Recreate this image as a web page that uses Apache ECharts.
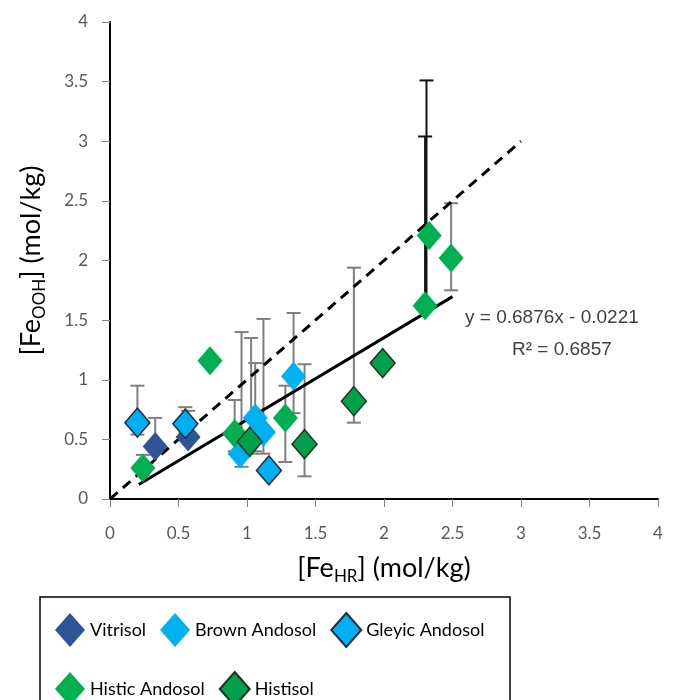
<!DOCTYPE html>
<html>
<head>
<meta charset="utf-8">
<script src="https://cdn.jsdelivr.net/npm/echarts@6/dist/echarts.min.js"></script>
<style>
html,body{margin:0;padding:0;background:#fff;}
#main{width:681px;height:700px;}
</style>
</head>
<body>
<div id="main"></div>
<script>
// x axis ticks / y axis ticks
var x_ticks = [0, 0.5, 1, 1.5, 2, 2.5, 3, 3.5, 4];
var y_ticks = [0, 0.5, 1, 1.5, 2, 2.5, 3, 3.5, 4];

// [FeHR], [FeOOH] per soil type
var vitrisol_x = [0.33, 0.57];
var vitrisol_y = [0.44, 0.52];
var brown_x = [0.95, 1.06, 1.12, 1.34];
var brown_y = [0.38, 0.68, 0.56, 1.03];
var gleyic_x = [0.20, 0.55, 1.16];
var gleyic_y = [0.64, 0.63, 0.24];
var histic_x = [0.24, 0.73, 0.91, 1.28, 2.30, 2.33, 2.49];
var histic_y = [0.26, 1.16, 0.55, 0.68, 1.62, 2.21, 2.02];
var histisol_x = [1.02, 1.42, 1.78, 1.99];
var histisol_y = [0.48, 0.46, 0.82, 1.14];

// error bars: x, low, high
var grey_bar_x = [0.20, 0.33, 0.55, 0.57, 0.24, 0.91, 0.96, 1.03, 1.06, 1.12, 1.28, 1.34, 1.42, 1.78, 2.49];
var grey_bar_lo = [0.54, 0.40, 0.55, 0.50, 0.20, 0.40, 0.27, 0.38, 0.40, 0.38, 0.31, 0.72, 0.19, 0.64, 1.75];
var grey_bar_hi = [0.95, 0.68, 0.77, 0.74, 0.37, 0.83, 1.40, 1.35, 1.14, 1.51, 0.95, 1.56, 1.13, 1.94, 2.48];
var black_bar_x = [2.30, 2.31];
var black_bar_lo = [1.62, 1.62];
var black_bar_hi = [3.04, 3.51];

// trendline y = 0.6876x - 0.0221 and 1:1 line
var fit_a = 0.6876, fit_b = -0.0221;
var fit_x = [0.21, 2.50];
var one_x = [0, 3];

function pairs(xs, ys) {
    var out = [];
    for (var i = 0; i < xs.length; i++) out.push([xs[i], ys[i]]);
    return out;
}
function bars(xs, lo, hi) {
    var out = [];
    for (var i = 0; i < xs.length; i++) out.push([xs[i], lo[i], hi[i]]);
    return out;
}

//误差线
function errorSeries(data, color) {
    return {
        type: 'custom',
        data: data,
        z: 1,
        silent: true,
        renderItem: function (params, api) {
            var x = api.value(0);
            var lo = api.coord([x, api.value(1)]);
            var hi = api.coord([x, api.value(2)]);
            var w = 7;
            var style = { stroke: color, lineWidth: 2 };
            return {
                type: 'group',
                children: [
                    { type: 'line', shape: { x1: lo[0], y1: lo[1], x2: hi[0], y2: hi[1] }, style: style },
                    { type: 'line', shape: { x1: hi[0] - w, y1: hi[1], x2: hi[0] + w, y2: hi[1] }, style: style },
                    { type: 'line', shape: { x1: lo[0] - w, y1: lo[1], x2: lo[0] + w, y2: lo[1] }, style: style }
                ]
            };
        }
    };
}

function scatterSeries(name, data, color, border) {
    return {
        name: name,
        type: 'scatter',
        symbol: 'diamond',
        symbolSize: [25, 29],
        z: 3,
        data: data,
        itemStyle: {
            color: color,
            opacity: 1,
            borderColor: border || color,
            borderWidth: border ? 1.5 : 0
        }
    };
}

var myChart = echarts.init(document.getElementById('main'));
var font = 'Lato, "Liberation Sans", sans-serif';
var axisLabel = { color: '#595959', fontSize: 17, fontFamily: font, margin: 26 };

var option = {
    animation: false,
    backgroundColor: '#fff',
    grid: { left: 110, right: 23, top: 22, bottom: 201 },
    xAxis: {
        type: 'value',
        min: 0, max: 4, interval: 0.5,
        name: '{n|[Fe}{s|HR}{n|] (mol/kg)}',
        nameLocation: 'middle',
        nameGap: 52,
        nameTextStyle: {
            rich: {
                n: { fontSize: 27, color: '#000', fontFamily: font, lineHeight: 34 },
                s: { fontSize: 17, color: '#000', fontFamily: font, verticalAlign: 'bottom', lineHeight: 24 }
            }
        },
        axisLine: { lineStyle: { color: '#000', width: 2 } },
        axisTick: { length: 8, lineStyle: { color: '#868686' } },
        axisLabel: axisLabel,
        splitLine: { show: false }
    },
    yAxis: {
        type: 'value',
        min: 0, max: 4, interval: 0.5,
        name: '{n|[Fe}{s|OOH}{n|] (mol/kg)}',
        nameLocation: 'middle',
        nameRotate: 90,
        nameGap: 62,
        nameTextStyle: {
            rich: {
                n: { fontSize: 27, color: '#000', fontFamily: font, lineHeight: 34 },
                s: { fontSize: 17, color: '#000', fontFamily: font, verticalAlign: 'bottom', lineHeight: 24 }
            }
        },
        axisLine: { show: true, lineStyle: { color: '#000', width: 2 } },
        axisTick: { show: true, length: 8, lineStyle: { color: '#868686' } },
        axisLabel: { color: '#595959', fontSize: 17, fontFamily: font, margin: 22 },
        splitLine: { show: false }
    },
    legend: [
        {
            left: 50, top: 607,
            itemWidth: 30, itemHeight: 34, itemGap: 14,
            textStyle: { fontSize: 18, color: '#000', fontFamily: font },
            data: ['Vitrisol', 'Brown Andosol', 'Gleyic Andosol']
        },
        {
            left: 50, top: 666,
            itemWidth: 30, itemHeight: 34, itemGap: 14,
            textStyle: { fontSize: 18, color: '#000', fontFamily: font },
            data: ['Histic Andosol', 'Histisol']
        }
    ],
    graphic: [
        {
            type: 'rect',
            shape: { x: 40, y: 597, width: 470, height: 120 },
            style: { fill: 'none', stroke: '#000', lineWidth: 1.5 }
        },
        {
            type: 'text', left: 465, top: 308,
            style: { text: 'y = 0.6876x - 0.0221', fontSize: 19, fill: '#404040', font: '19px ' + font }
        },
        {
            type: 'text', left: 512, top: 340,
            style: { text: 'R² = 0.6857', fontSize: 19, fill: '#404040', font: '19px ' + font }
        }
    ],
    series: [
        errorSeries(bars(grey_bar_x, grey_bar_lo, grey_bar_hi), '#7f7f7f'),
        errorSeries(bars(black_bar_x, black_bar_lo, black_bar_hi), '#111'),
        {
            type: 'line',
            data: pairs(one_x, one_x),
            symbol: 'none',
            silent: true,
            z: 2,
            lineStyle: { color: '#000', width: 3, type: [10, 7] }
        },
        {
            type: 'line',
            data: fit_x.map(function (x) { return [x, fit_a * x + fit_b]; }),
            symbol: 'none',
            silent: true,
            z: 2,
            lineStyle: { color: '#000', width: 3 }
        },
        scatterSeries('Vitrisol', pairs(vitrisol_x, vitrisol_y), '#2F5597'),
        scatterSeries('Brown Andosol', pairs(brown_x, brown_y), '#00B0F0'),
        scatterSeries('Gleyic Andosol', pairs(gleyic_x, gleyic_y), '#00B0F0', '#1F2F3F'),
        scatterSeries('Histic Andosol', pairs(histic_x, histic_y), '#00B050'),
        scatterSeries('Histisol', pairs(histisol_x, histisol_y), '#00A04B', '#1F3320')
    ]
};

myChart.setOption(option);
</script>
</body>
</html>
